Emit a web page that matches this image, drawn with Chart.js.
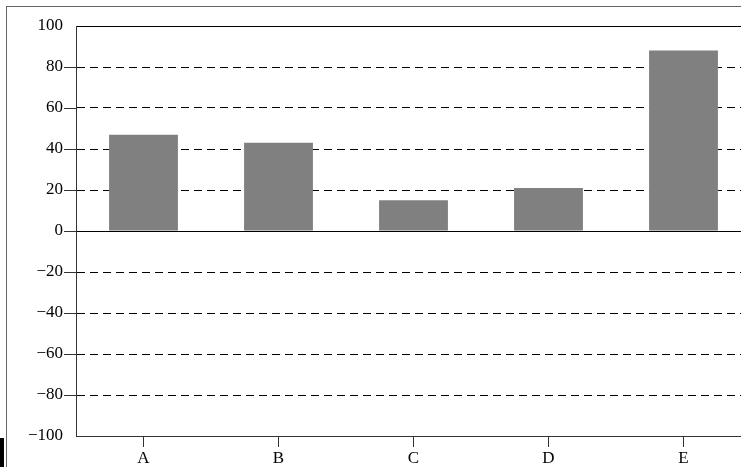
<!DOCTYPE html>
<html>
<head>
<meta charset="utf-8">
<script src="https://cdn.jsdelivr.net/npm/chart.js@4/dist/chart.umd.min.js"></script>
<style>
  html, body { margin: 0; padding: 0; background: #fff; overflow: hidden; }
  #wrap { position: relative; width: 741px; height: 467px; overflow: hidden; }
  #chart { position: absolute; left: 0; top: 0; }
  #mark { position: absolute; left: 0; top: 438px; width: 4px; height: 29px; background: #000; }
</style>
</head>
<body>
<div id="wrap">
  <canvas id="chart" width="760" height="467"></canvas>
  <div id="mark"></div>
</div>
<script>
// カテゴリと値
const categories = ["A", "B", "C", "D", "E"];
const values = [47, 43, 15, 21, 88];
const yTicks = [-100, -80, -60, -40, -20, 0, 20, 40, 60, 80, 100];

const lineColor = "#333";
const fontSpec = { family: "'Liberation Serif', 'DejaVu Serif', serif", size: 17 };
const yTickLen = 12;

// 外枠 + y軸の目盛り線 (上下端 ±100 は描かない)
const decorations = {
  id: "decorations",
  afterDraw(chart) {
    const ctx = chart.ctx;
    const area = chart.chartArea;
    const scale = chart.scales.y;
    ctx.save();
    ctx.setLineDash([]);
    ctx.globalAlpha = 1;
    ctx.lineWidth = 1;
    ctx.strokeStyle = "#666";
    ctx.strokeRect(6.5, 6.5, 1000, 1000);
    ctx.strokeStyle = lineColor;
    ctx.beginPath();
    for (const v of yTicks) {
      if (Math.abs(v) === 100) continue;
      const py = Math.round(scale.getPixelForValue(v)) + 0.5;
      ctx.moveTo(area.left - yTickLen, py);
      ctx.lineTo(area.left, py);
    }
    ctx.stroke();
    ctx.restore();
  },
};

new Chart(document.getElementById("chart"), {
  type: "bar",
  data: {
    labels: categories,
    datasets: [{
      data: values,
      backgroundColor: "#808080",
      borderWidth: 0,
      barPercentage: 0.51,
      categoryPercentage: 1.0,
    }],
  },
  options: {
    responsive: false,
    animation: false,
    layout: { padding: { top: 26, right: 9, left: 0, bottom: 0 } },
    plugins: { legend: { display: false }, tooltip: { enabled: false } },
    scales: {
      x: {
        grid: {
          offset: false,
          drawOnChartArea: false,
          tickLength: 11,
          tickColor: lineColor,
        },
        border: { color: lineColor, width: 1 },
        ticks: { color: "#000", font: fontSpec, padding: 1 },
        afterFit(scale) { scale.height = 31; },
      },
      y: {
        min: -100,
        max: 100,
        afterBuildTicks(scale) {
          scale.ticks = yTicks.map((v) => ({ value: v }));
        },
        grid: {
          color: "#000",
          lineWidth: 1,
          drawTicks: false,
        },
        border: {
          color: lineColor,
          width: 1,
          // 0 と ±100 は実線、それ以外は破線
          dash: (c) => (c.tick && c.tick.value % 100 !== 0 ? [8, 5] : []),
        },
        ticks: {
          color: "#000",
          font: fontSpec,
          padding: yTickLen + 1,
          callback: (v) => String(v).replace("-", "\u2212"),
        },
        afterFit(scale) { scale.width = 76; },
      },
    },
  },
  plugins: [decorations],
});
</script>
</body>
</html>
